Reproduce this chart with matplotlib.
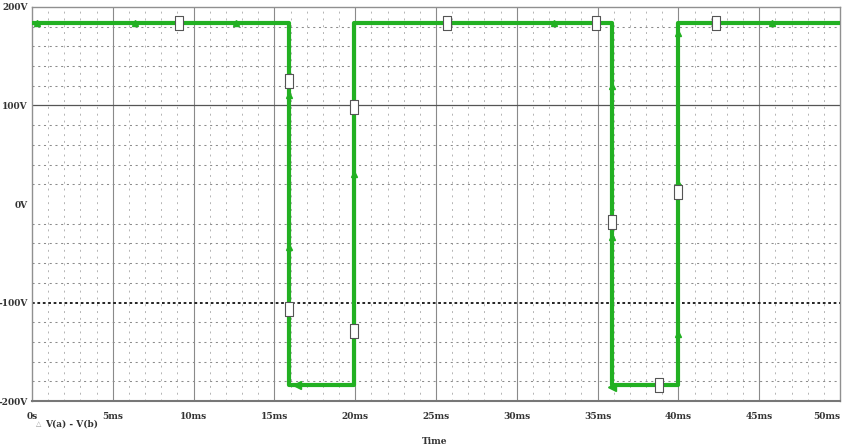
import matplotlib
matplotlib.use('Agg')
import matplotlib.pyplot as plt

# trace V(a) - V(b), time in ms, volts
t_wave = [0, 15.9, 15.9, 19.9, 19.9, 35.9, 35.9, 40.0, 40.0, 50.0]
v_wave = [184, 184, -184, -184, 184, 184, -184, -184, 184, 184]

# marker points
tri_t = [0.3, 6.4, 12.6, 32.3, 45.8, 15.9, 15.9, 19.9, 35.9, 35.9, 40.0, 40.0, 40.0]
tri_v = [184, 184, 184, 184, 184, 111, -44, 30, 120, -33, 174, 21, -132]
arrow_t = [16.4, 35.9]
arrow_v = [-184, -186]
sq_t = [9.1, 25.7, 34.9, 42.3, 15.9, 15.9, 19.9, 19.9, 35.9, 38.8, 40.0]
sq_v = [184, 184, 184, 184, 125, -107, 98, -129, -18, -184, 12]

x_ticks = [0, 5, 10, 15, 20, 25, 30, 35, 40, 45, 50]
x_labels = ['0s', '5ms', '10ms', '15ms', '20ms', '25ms', '30ms', '35ms', '40ms', '45ms', '50ms']
y_ticks = [-200, -100, 0, 100, 200]
y_labels = ['-200V', '-100V', '0V', '100V', '200V']

green = '#22b022'
lab_font = dict(family='DejaVu Serif', fontsize=6.5, fontweight='bold', color='#333333')

fig = plt.figure(figsize=(8.44, 4.48), dpi=100)
ax = fig.add_axes([32 / 844, 47 / 448, 808 / 844, 394 / 448])
ax.set_xlim(0, 50)
ax.set_ylim(-200, 200)

# grid: dotted minor, solid major, like the simulator window
for x in range(1, 50):
    if x % 5:
        ax.axvline(x, color='#b4b4b4', lw=0.7, ls=(0, (2, 5)), zorder=1)
    else:
        ax.axvline(x, color='#8a8a8a', lw=0.8, zorder=1)
for y in range(-180, 200, 20):
    if y == 100:
        ax.axhline(y, color='#555555', lw=0.9, zorder=1)
    elif y == -100:
        ax.axhline(y, color='#111111', lw=1.3, ls=(0, (1.5, 1.5)), zorder=1)
    elif y != 0:
        ax.axhline(y, color='#8c8c8c', lw=0.75, ls=(0, (2, 3.5)), zorder=1)

ax.plot(t_wave, v_wave, color=green, lw=3, zorder=3, solid_joinstyle='round')
ax.plot(tri_t, tri_v, ls='none', marker='^', ms=5, color=green, zorder=4)
ax.plot(arrow_t, arrow_v, ls='none', marker='<', ms=6, color=green, zorder=4)
box = [(-0.6, -1), (0.6, -1), (0.6, 1), (-0.6, 1), (-0.6, -1)]
ax.plot(sq_t, sq_v, ls='none', marker=box, ms=10, mfc='white', mec='#555555',
        mew=0.8, zorder=5)

for s in ax.spines.values():
    s.set_color('#909090')
    s.set_linewidth(1.0)
ax.spines['bottom'].set_color('#777777')
ax.spines['bottom'].set_linewidth(1.5)

ax.set_xticks(x_ticks)
ax.set_xticklabels(x_labels, **lab_font)
ax.get_xticklabels()[-1].set_ha('right')
ax.get_xticklabels()[-1].set_x(50.3)
ax.set_yticks(y_ticks)
ax.set_yticklabels(y_labels, **lab_font)
ax.tick_params(length=0, pad=8)
ax.tick_params(axis='y', pad=3)

fig.text(36 / 844, 1 - 424 / 448, '\u25b3', fontsize=5, color='#999999', va='center')
fig.text(45 / 844, 1 - 424 / 448, 'V(a) - V(b)', va='center', **lab_font)
fig.text(435 / 844, 1 - 441 / 448, 'Time', ha='center', va='center', **lab_font)

fig.savefig('out.png', dpi=100)
